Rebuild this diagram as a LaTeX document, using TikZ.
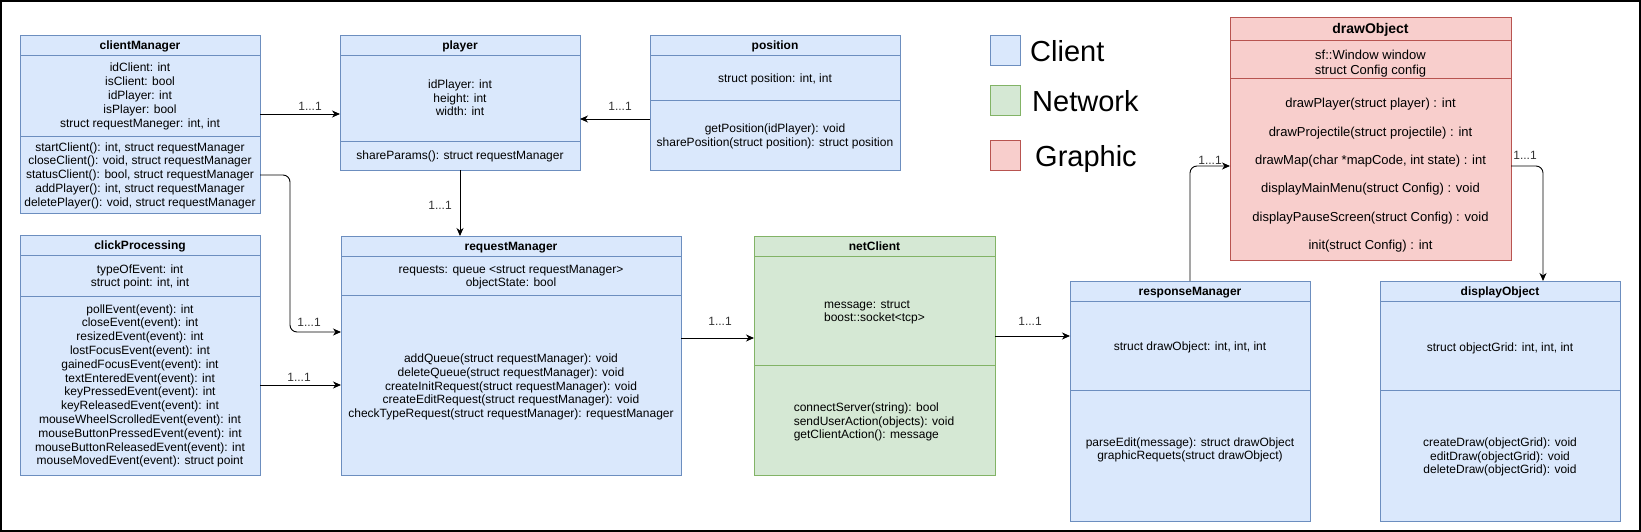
\documentclass[tikz,border=0pt]{standalone}
\usepackage{fontspec}
\setmainfont{Liberation Sans}
\usetikzlibrary{arrows.meta,calc}
\definecolor{bfill}{HTML}{DAE8FC}
\definecolor{bline}{HTML}{6C8EBF}
\definecolor{gfill}{HTML}{D5E8D4}
\definecolor{gline}{HTML}{82B366}
\definecolor{rfill}{HTML}{F8CECC}
\definecolor{rline}{HTML}{B85450}
\newcommand\Ls{\rule[-2.9pt]{0pt}{13.8pt}}
\newcommand\NL{\\\Ls}
\newcommand\Lc{\rule[-2.8pt]{0pt}{15pt}}
\newcommand\NLc{\\\Lc}
\newcommand\ttlfont{\fontsize{12pt}{13.8pt}\selectfont\bfseries}
\newcommand\umlcls[9]{%
  \node[anchor=north west, minimum width={#4-#3}, minimum height={#6-#5},
        font=\ttlfont, text height=8.7pt, text depth=0pt, #2] (#1T) at (#3,#5) {#9};
  \node[#2, anchor=north west, minimum width={#4-#3}, minimum height={#7-#6}] (#1A) at (#3,#6) {};
  \node[#2, anchor=north west, minimum width={#4-#3}, minimum height={#8-#7}] (#1M) at (#3,#7) {};
}
\tikzset{
  boxbase/.style={draw, line width=0.9pt, inner sep=0pt, outer sep=0pt},
  cblue/.style={boxbase, draw=bline, fill=bfill},
  cgreen/.style={boxbase, draw=gline, fill=gfill},
  cred/.style={boxbase, draw=rline, fill=rfill},
  bigttl/.style={font=\fontsize{14pt}{16pt}\selectfont\bfseries, text height=10pt, text depth=0pt},
  txt/.style={inner sep=0pt, align=center, font=\fontsize{12pt}{13.8pt}\selectfont},
  txtl/.style={txt, align=left},
  txtwide/.style={txt, font=\fontsize{13pt}{28.4pt}\selectfont},
  txtmid/.style={txt, font=\fontsize{13pt}{15pt}\selectfont},
  conn/.style={draw, line width=0.9pt, rounded corners=7pt, -{Stealth[length=8pt,width=7pt,inset=2.5pt]}},
  lbl/.style={inner sep=0pt, font=\fontsize{12pt}{13.8pt}\selectfont, text=black!80, text height=8.6pt, text depth=0pt},
  legtxt/.style={inner sep=0pt, anchor=west, font=\fontsize{29pt}{32pt}\selectfont, text height=20.8pt, text depth=0pt},
}
\begin{document}
\begin{tikzpicture}[x=1pt,y=-1pt]
\useasboundingbox (0,0) rectangle (1641,532);
\draw[line width=2pt] (1,1) rectangle (1640,531);

% classes
\umlcls{cm}{cblue}{20}{260}{35}{55}{136}{213}{clientManager}
\umlcls{cp}{cblue}{20}{260}{235}{255}{296}{475}{clickProcessing}
\umlcls{pl}{cblue}{340}{580}{35}{55}{141}{170}{player}
\umlcls{po}{cblue}{650}{900}{35}{55}{100}{170}{position}
\umlcls{rm}{cblue}{341}{681}{236}{256}{295}{475}{requestManager}
\umlcls{nc}{cgreen}{754}{995}{236}{256}{365}{475}{netClient}
\umlcls{rs}{cblue}{1070}{1310}{281}{301}{390}{521}{responseManager}
\umlcls{dp}{cblue}{1380}{1620}{281}{301}{390}{521}{displayObject}
\umlcls{do}{cred,bigttl}{1230}{1511}{17}{40}{78}{260}{drawObject}

% texts
\node[txt] (cmAt) at (140,95.5) {\Ls idClient: int\NL isClient: bool\NL idPlayer: int\NL isPlayer: bool\NL struct requestManeger: int, int};
\node[txt] (cmMt) at (140,174.7) {\Ls startClient(): int, struct requestManager\NL closeClient(): void, struct requestManager\NL statusClient(): bool, struct requestManager\NL addPlayer(): int, struct requestManager\NL deletePlayer(): void, struct requestManager};
\node[txt] (cpAt) at (140,276) {\Ls typeOfEvent: int\NL struct point: int, int};
\node[txt] (cpMt) at (140,385) {\Ls pollEvent(event): int\NL closeEvent(event): int\NL resizedEvent(event): int\NL lostFocusEvent(event): int\NL gainedFocusEvent(event): int\NL textEnteredEvent(event): int\NL keyPressedEvent(event): int\NL keyReleasedEvent(event): int\NL mouseWheelScrolledEvent(event): int\NL mouseButtonPressedEvent(event): int\NL mouseButtonReleasedEvent(event): int\NL mouseMovedEvent(event): struct point};
\node[txt] (plAt) at (460,98) {\Ls idPlayer: int\NL height: int\NL width: int};
\node[txt] (plMt) at (460,156) {\Ls shareParams(): struct requestManager};
\node[txt] (poAt) at (775,78.5) {\Ls struct position: int, int};
\node[txt] (poMt) at (775,135.5) {\Ls getPosition(idPlayer): void\NL sharePosition(struct position): struct position};
\node[txt] (rmAt) at (511,276) {\Ls requests: queue <struct requestManager>\NL objectState: bool};
\node[txt] (rmMt) at (511,386) {\Ls addQueue(struct requestManager): void\NL deleteQueue(struct requestManager): void\NL createInitRequest(struct requestManager): void\NL createEditRequest(struct requestManager): void\NL checkTypeRequest(struct requestManager): requestManager};
\node[txtl] (ncAt) at (874.5,311) {\Ls message: struct\NL boost::socket<tcp>};
\node[txtl] (ncMt) at (874,421) {\Ls connectServer(string): bool\NL sendUserAction(objects): void\NL getClientAction(): message};
\node[txt] (rsAt) at (1190,346) {\Ls struct drawObject: int, int, int};
\node[txt] (rsMt) at (1190,449) {\Ls parseEdit(message): struct drawObject\NL graphicRequets(struct drawObject)};
\node[txt] (dpAt) at (1500,347) {\Ls struct objectGrid: int, int, int};
\node[txt] (dpMt) at (1500,456) {\Ls createDraw(objectGrid): void\NL editDraw(objectGrid): void\NL deleteDraw(objectGrid): void};
\node[txtmid] (doAt) at (1370.5,62.5) {\Lc sf::Window window\NLc struct Config config};
\node[txtwide] (doMt) at (1370.5,174) {\Lc drawPlayer(struct player) : int\NLc drawProjectile(struct projectile) : int\NLc drawMap(char *mapCode, int state) : int\NLc displayMainMenu(struct Config) : void\NLc displayPauseScreen(struct Config) : void\NLc init(struct Config) : int};

% legend
\node[cblue, minimum size=30pt] (legC) at (1005,50) {};
\node[cgreen, minimum size=30pt] (legN) at (1005,100) {};
\node[cred, minimum size=30pt] (legG) at (1005,155) {};
\node[legtxt] (legCt) at (1030,51.5) {Client};
\node[legtxt] (legNt) at (1032,101.5) {Network};
\node[legtxt] (legGt) at (1035,156.5) {Graphic};

% connectors
\draw[conn] ($(cmA.north east)+(0,59)$) -- ($(plA.north west)+(0,59)$);
\draw[conn] ($(poA.south west)+(0,19)$) -- ($(plA.south east)+(0,-22)$);
\draw[conn] (plM.south) -- (plM.south |- rmT.north);
\draw[conn] ($(cmM.north east)+(0,39)$) -| ($(rmM.north west)+(-51,37)$) -- ($(rmM.north west)+(0,37)$);
\draw[conn] ($(cpM.north east)+(0,89)$) -- ($(rmM.north west)+(0,90)$);
\draw[conn] ($(rmM.north east)+(0,43)$) -- ($(ncA.north west)+(0,82)$);
\draw[conn] ($(ncA.north east)+(0,80)$) -- ($(rsA.north west)+(0,35)$);
\draw[conn] (rsT.north) |- ($(doM.north west)+(0,88)$);
\draw[conn] ($(doM.north east)+(0,88)$) -| ($(dpT.north)+(43,0)$);

% labels
\node[lbl] (l1) at (310,106) {1...1};
\node[lbl] (l2) at (620,106) {1...1};
\node[lbl] (l3) at (440,205) {1...1};
\node[lbl] (l4) at (309,322) {1...1};
\node[lbl] (l5) at (299,377) {1...1};
\node[lbl] (l6) at (720,321) {1...1};
\node[lbl] (l7) at (1030,321) {1...1};
\node[lbl] (l8) at (1210,160) {1...1};
\node[lbl] (l9) at (1525,155) {1...1};
\end{tikzpicture}
\end{document}
